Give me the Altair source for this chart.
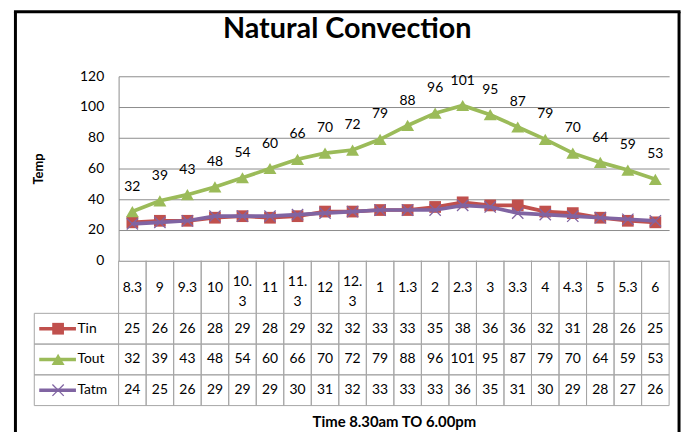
import altair as alt
import pandas as pd

# ---- data ----
times = ["8.3", "9", "9.3", "10", "10.3", "11", "11.3", "12", "12.3", "1",
         "1.3", "2", "2.3", "3", "3.3", "4", "4.3", "5", "5.3", "6"]
tin = [25, 26, 26, 28, 29, 28, 29, 32, 32, 33, 33, 35, 38, 36, 36, 32, 31, 28, 26, 25]
tout = [32, 39, 43, 48, 54, 60, 66, 70, 72, 79, 88, 96, 101, 95, 87, 79, 70, 64, 59, 53]
tatm = [24, 25, 26, 29, 29, 29, 30, 31, 32, 33, 33, 33, 36, 35, 31, 30, 29, 28, 27, 26]
series = ["Tin", "Tout", "Tatm"]
y_ticks = [0, 20, 40, 60, 80, 100, 120]

# ---- styles ----
colors = ["#C0504D", "#9BBB59", "#8064A2"]
FONT = "Lato"
GRID = "#8C8C8C"
TBL = "#A6A6A6"
TXT = "#000000"
W, H = 555, 186
HDR_H, BODY_H = 53, 93
XPATH = "M-1,-1L1,1M-1,1L1,-1"

rows = []
for s, vals in zip(series, [tin, tout, tatm]):
    for i, (t, v) in enumerate(zip(times, vals)):
        rows.append({"series": s, "time": t, "value": v, "order": i})
df = pd.DataFrame(rows)
hdr = pd.DataFrame({"time": times,
                    "label": [t if len(t) <= 3 else t[:3] + "\n" + t[3:] for t in times],
                    "wrapped": [len(t) > 3 for t in times]})
ser_df = pd.DataFrame({"series": series})
one = pd.DataFrame({"k": [0]})

color = alt.Color("series:N", scale=alt.Scale(domain=series, range=colors), legend=None)

# ---------------- line chart ----------------
xp = alt.X("time:N", sort=times, axis=None, scale=alt.Scale(type="point", padding=0.5))
yq = alt.Y("value:Q", scale=alt.Scale(domain=[0, 120]),
           axis=alt.Axis(values=y_ticks, grid=True, gridColor=GRID, gridWidth=1,
                         domainColor=GRID, ticks=False, tickSize=0, labelPadding=15,
                         labelFont=FONT, labelFontSize=14, labelColor=TXT,
                         title="Temp", titleFont=FONT, titleFontSize=13,
                         titleFontWeight="bold", titleColor=TXT, titlePadding=34))

base = alt.Chart(df).encode(x=xp, y=yq, color=color, order="order:Q")
shapes = {"Tin": ("square", True, 140), "Tout": ("triangle-up", True, 170), "Tatm": (XPATH, False, 130)}
layers = []
for s in series:
    shp, filled, size = shapes[s]
    b = base.transform_filter(alt.datum.series == s)
    layers.append(b.mark_line(strokeWidth=3.7))
    if filled:
        layers.append(b.mark_point(shape=shp, filled=True, size=size, opacity=1))
    else:
        layers.append(b.mark_point(shape=shp, filled=False, size=size, opacity=1, strokeWidth=1.3))

labels = alt.Chart(df).transform_filter(alt.datum.series == "Tout").mark_text(
    dy=-25, font=FONT, fontSize=14, color=TXT).encode(x=xp, y=yq, text="value:Q")

frame = alt.Chart(one).mark_rule(color="#000000", strokeWidth=3)
b_left = frame.encode(x=alt.value(-104), y=alt.value(-65), y2=alt.value(380))
b_right = frame.encode(x=alt.value(565), y=alt.value(-65), y2=alt.value(380))
b_top = frame.encode(x=alt.value(-105.5), x2=alt.value(566.5), y=alt.value(-65))

top = alt.layer(b_left, b_right, b_top, *layers, labels).properties(width=W, height=H)

# ---------------- table header ----------------
xb = alt.Scale(type="band", paddingInner=0, paddingOuter=0)
hx = alt.X("time:N", sort=times, scale=xb, axis=None)
h_text1 = alt.Chart(hdr).transform_filter(~alt.datum.wrapped).mark_text(
    font=FONT, fontSize=14, color=TXT, baseline="middle", dy=1).encode(x=hx, text="label:N")
h_text2 = alt.Chart(hdr).transform_filter(alt.datum.wrapped).mark_text(
    lineBreak="\n", font=FONT, fontSize=14, color=TXT, lineHeight=20,
    baseline="middle", dy=-5).encode(x=hx, text="label:N")
h_v0 = alt.Chart(hdr).mark_rule(color=TBL).encode(
    x=alt.X("time:N", sort=times, scale=xb, axis=None, bandPosition=0))
h_v1 = alt.Chart(hdr).mark_rule(color=TBL).encode(
    x=alt.X("time:N", sort=times, scale=xb, axis=None, bandPosition=1))
header = alt.layer(h_v0, h_v1, h_text1, h_text2).properties(width=W, height=HDR_H)

# ---------------- table body ----------------
bx = alt.X("time:N", sort=times, scale=xb,
           axis=alt.Axis(labels=False, ticks=False, domain=False, grid=False,
                         title="Time 8.30am TO 6.00pm", titleFont=FONT, titleFontSize=15,
                         titleFontWeight="bold", titleColor=TXT, titlePadding=9))
by = alt.Y("series:N", sort=series, scale=alt.Scale(type="band", paddingInner=0, paddingOuter=0),
           axis=alt.Axis(title=None, domain=False, ticks=False, tickSize=0, grid=False,
                         labelAlign="left", labelPadding=42, labelFont=FONT,
                         labelFontSize=14, labelColor=TXT))
b_text = alt.Chart(df).mark_text(font=FONT, fontSize=14, color=TXT, baseline="middle").encode(
    x=bx, y=by, text="value:Q")
v0 = alt.Chart(hdr).mark_rule(color=TBL).encode(
    x=alt.X("time:N", sort=times, scale=xb, bandPosition=0))
v1 = alt.Chart(hdr).mark_rule(color=TBL).encode(
    x=alt.X("time:N", sort=times, scale=xb, bandPosition=1))
hz0 = alt.Chart(ser_df).mark_rule(color=TBL).encode(
    y=alt.Y("series:N", sort=series, bandPosition=0), x=alt.value(-85), x2=alt.value(W))
hz1 = alt.Chart(ser_df).mark_rule(color=TBL).encode(
    y=alt.Y("series:N", sort=series, bandPosition=1), x=alt.value(-85), x2=alt.value(W))
lborder = alt.Chart(one).mark_rule(color=TBL).encode(x=alt.value(-85))

key_layers = []
for s in series:
    shp, filled, size = shapes[s]
    kb = alt.Chart(ser_df).transform_filter(alt.datum.series == s)
    key_layers.append(kb.mark_rule(strokeWidth=3.7).encode(
        x=alt.value(-80), x2=alt.value(-43), y=alt.Y("series:N", sort=series), color=color))
    if filled:
        key_layers.append(kb.mark_point(shape=shp, filled=True, size=size, opacity=1).encode(
            x=alt.value(-61), y=alt.Y("series:N", sort=series), color=color))
    else:
        key_layers.append(kb.mark_point(shape=shp, filled=False, size=size, opacity=1,
                                        strokeWidth=1.3).encode(
            x=alt.value(-61), y=alt.Y("series:N", sort=series), color=color))

body = alt.layer(b_text, v0, v1, hz0, hz1, lborder, *key_layers).properties(width=W, height=BODY_H)

chart = alt.vconcat(top, header, body, spacing=0, bounds="flush").properties(
    title=alt.TitleParams("Natural Convection", font=FONT, fontSize=29, fontWeight="bold",
                          color=TXT, anchor="middle", frame="bounds", baseline="top", offset=-34),
    padding={"left": 4.5, "top": 0, "right": 2, "bottom": 0},
    background="white",
).configure_view(strokeWidth=0)

chart.save("out.html", embed_options={"renderer": "svg", "actions": False})
